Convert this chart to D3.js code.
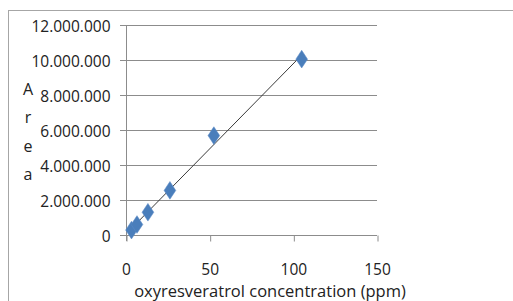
<!DOCTYPE html>
<html>
<head>
<meta charset="utf-8">
<script src="https://cdn.jsdelivr.net/npm/d3@7"></script>
<style>
  body { margin: 0; background: #fff; }
  svg { display: block; }
  text { font-family: "Open Sans", sans-serif; fill: #222; }
</style>
</head>
<body>
<svg id="chart" width="513" height="301"></svg>
<script>
// concentration (ppm) and peak area
var concentrations = [3.28, 6.56, 13.1, 26.25, 52.5, 105];
var areas = [280000, 600000, 1300000, 2550000, 5680000, 10050000];
var xTicks = [0, 50, 100, 150];
var yTicks = [0, 2000000, 4000000, 6000000, 8000000, 10000000, 12000000];
var yLabelLetters = ["A", "r", "e", "a"];
var xTitle = "oxyresveratrol concentration (ppm)";

var svg = d3.select("#chart");
var margin = {left: 126, right: 136, top: 25, bottom: 66};
var width = 513, height = 301;
var fontFam = "Open Sans, sans-serif";

var x = d3.scaleLinear().domain([0, 150]).range([margin.left, width - margin.right]);
var y = d3.scaleLinear().domain([0, 12000000]).range([height - margin.bottom, margin.top]);

var locale = d3.formatLocale({decimal: ",", thousands: ".", grouping: [3], currency: ["", ""]});
var fmt = locale.format(",");

// outer chart border
svg.append("rect")
	.attr("x", 8.5).attr("y", 10.5)
	.attr("width", 520).attr("height", 300)
	.attr("fill", "none").attr("stroke", "#a6a6a6");

// gridlines
svg.append("g").selectAll("line")
	.data(yTicks)
	.enter().append("line")
		.attr("x1", margin.left - 6).attr("x2", x(150))
		.attr("y1", function(d) { return Math.round(y(d)) + 0.5; })
		.attr("y2", function(d) { return Math.round(y(d)) + 0.5; })
		.attr("stroke", "#8c8c8c");

// y axis
var yAxis = svg.append("g")
	.attr("transform", "translate(" + (margin.left + 0.5) + ",0)")
	.call(d3.axisLeft(y).tickValues(yTicks).tickFormat(fmt).tickSize(0).tickPadding(16));
yAxis.select(".domain").remove();
yAxis.selectAll("text")
	.attr("dy", "0.4em")
	.style("font-size", "15.5px")
	.style("font-family", fontFam)
	.attr("fill", "#222");

svg.append("line")
	.attr("x1", margin.left + 0.5).attr("x2", margin.left + 0.5)
	.attr("y1", y(12000000)).attr("y2", y(0) + 6)
	.attr("stroke", "#8c8c8c");

// x axis
var xAxis = svg.append("g")
	.attr("transform", "translate(0," + (Math.round(y(0)) + 0.5) + ")")
	.call(d3.axisBottom(x).tickValues(xTicks).tickSize(6).tickPadding(33).tickSizeOuter(0));
xAxis.select(".domain").remove();
xAxis.selectAll("line").attr("stroke", "#8c8c8c")
	.attr("transform", "translate(0.5,0)");
xAxis.selectAll("text")
	.attr("dy", "0")
	.style("font-size", "15.5px")
	.style("font-family", fontFam)
	.attr("fill", "#222");

// linear trendline
var reg = (function() {
	var mx = d3.mean(concentrations), my = d3.mean(areas);
	var sxy = d3.sum(concentrations, function(c, i) { return (c - mx) * (areas[i] - my); });
	var sxx = d3.sum(concentrations, function(c) { return (c - mx) * (c - mx); });
	var b = sxy / sxx;
	return {slope: b, intercept: my - b * mx};
})();
var xr = d3.extent(concentrations);
svg.append("line")
	.attr("x1", x(xr[0])).attr("y1", y(reg.intercept + reg.slope * xr[0]))
	.attr("x2", x(xr[1])).attr("y2", y(reg.intercept + reg.slope * xr[1]))
	.attr("stroke", "#3a3a3a").attr("stroke-width", 1);

// markers
var diamond = d3.symbol().type(d3.symbolDiamond).size(90);
svg.append("g").selectAll("path")
	.data(concentrations)
	.enter().append("path")
		.attr("d", diamond)
		.attr("transform", function(d, i) { return "translate(" + x(d) + "," + y(areas[i]) + ") scale(1.15,1)"; })
		.attr("fill", "#4a7ebb")
		.attr("stroke", "#5b8bc6").attr("stroke-width", 0.5);

// y title, stacked letters
svg.append("g").selectAll("text")
	.data(yLabelLetters)
	.enter().append("text")
		.attr("x", 28)
		.attr("y", function(d, i) { return 95 + i * 28.3; })
		.attr("text-anchor", "middle")
		.style("font-size", "16px")
		.text(function(d) { return d; });

// x title
svg.append("text")
	.attr("x", 270).attr("y", 297)
	.attr("text-anchor", "middle")
	.style("font-size", "16.5px")
	.text(xTitle);
</script>
</body>
</html>
